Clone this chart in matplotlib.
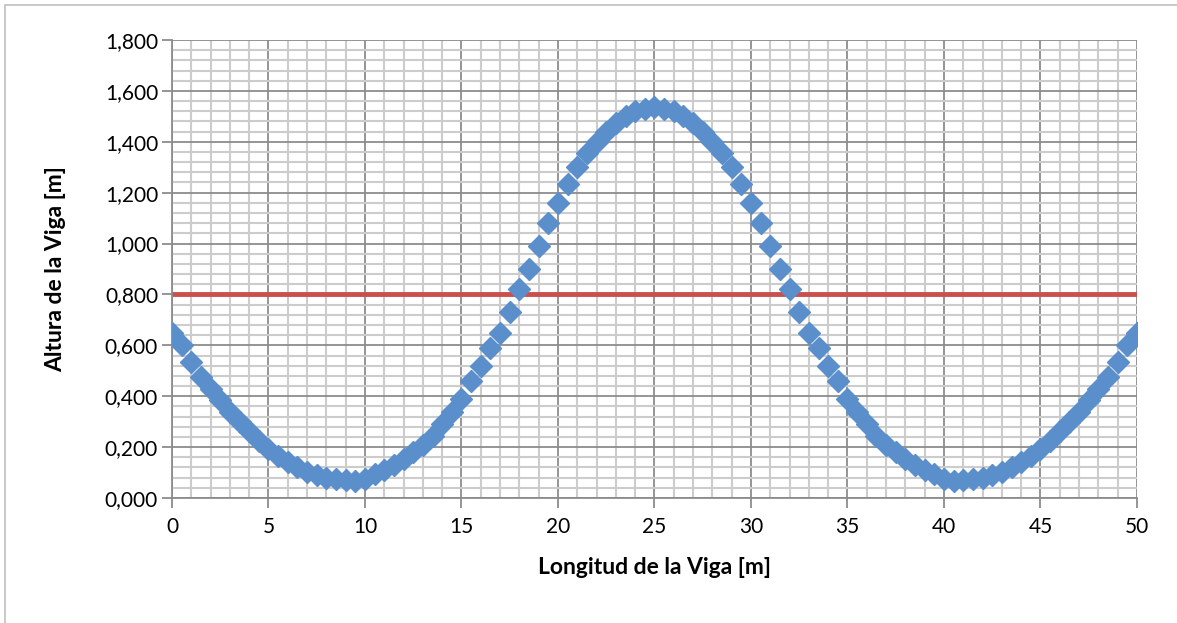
import matplotlib.pyplot as plt
from matplotlib.ticker import MultipleLocator, FuncFormatter
from matplotlib.patches import Rectangle

# Beam profile data
longitud = [0.0, 0.5, 1.0, 1.5, 2.0, 2.5, 3.0, 3.5, 4.0, 4.5,
            5.0, 5.5, 6.0, 6.5, 7.0, 7.5, 8.0, 8.5, 9.0, 9.5,
            10.0, 10.5, 11.0, 11.5, 12.0, 12.5, 13.0, 13.5, 14.0, 14.5,
            15.0, 15.5, 16.0, 16.5, 17.0, 17.5, 18.0, 18.5, 19.0, 19.5,
            20.0, 20.5, 21.0, 21.5, 22.0, 22.5, 23.0, 23.5, 24.0, 24.5,
            25.0, 25.5, 26.0, 26.5, 27.0, 27.5, 28.0, 28.5, 29.0, 29.5,
            30.0, 30.5, 31.0, 31.5, 32.0, 32.5, 33.0, 33.5, 34.0, 34.5,
            35.0, 35.5, 36.0, 36.5, 37.0, 37.5, 38.0, 38.5, 39.0, 39.5,
            40.0, 40.5, 41.0, 41.5, 42.0, 42.5, 43.0, 43.5, 44.0, 44.5,
            45.0, 45.5, 46.0, 46.5, 47.0, 47.5, 48.0, 48.5, 49.0, 49.5,
            50.0]
altura = [0.650, 0.600, 0.535, 0.475, 0.430, 0.385, 0.340, 0.300, 0.262, 0.225,
          0.192, 0.165, 0.140, 0.120, 0.102, 0.090, 0.080, 0.075, 0.071, 0.068,
          0.075, 0.095, 0.110, 0.130, 0.152, 0.180, 0.210, 0.245, 0.290, 0.340,
          0.390, 0.460, 0.520, 0.590, 0.650, 0.730, 0.820, 0.900, 0.990, 1.080,
          1.160, 1.235, 1.300, 1.355, 1.400, 1.440, 1.475, 1.500, 1.520, 1.530,
          1.535, 1.530, 1.520, 1.500, 1.475, 1.440, 1.400, 1.355, 1.300, 1.235,
          1.160, 1.080, 0.990, 0.900, 0.820, 0.730, 0.650, 0.590, 0.520, 0.460,
          0.390, 0.340, 0.290, 0.245, 0.210, 0.180, 0.152, 0.130, 0.110, 0.095,
          0.075, 0.068, 0.071, 0.075, 0.080, 0.090, 0.102, 0.120, 0.140, 0.165,
          0.192, 0.225, 0.262, 0.300, 0.340, 0.385, 0.430, 0.475, 0.535, 0.600,
          0.650]
limite_x = [0, 50]
limite_y = [0.8, 0.8]

plt.rcParams['font.family'] = ['Lato', 'DejaVu Sans']

fig = plt.figure(figsize=(11.77, 6.23), dpi=100)
fig.patches.append(Rectangle((0.004, -0.01), 1.2, 1.002, transform=fig.transFigure,
                             fill=False, edgecolor='#bfbfbf', linewidth=1.2))
ax = fig.add_axes([0.1461, 0.2006, 0.8199, 0.7352])

ax.plot(longitud, altura, linestyle='none', marker='D', markersize=11.5,
        color='#5b8fcb', zorder=3)
ax.plot(limite_x, limite_y, color='#c9504d', linewidth=3.5, zorder=2)

ax.set_xlim(0, 50)
ax.set_ylim(0, 1.8)
ax.xaxis.set_major_locator(MultipleLocator(5))
ax.xaxis.set_minor_locator(MultipleLocator(1))
ax.yaxis.set_major_locator(MultipleLocator(0.2))
ax.yaxis.set_minor_locator(MultipleLocator(0.04))
ax.yaxis.set_major_formatter(FuncFormatter(lambda v, p: f"{v:.3f}".replace('.', ',')))
ax.xaxis.set_major_formatter(FuncFormatter(lambda v, p: f"{v:.0f}"))

ax.grid(True, which='major', color='#8c8c8c', linewidth=1.3)
ax.grid(True, which='minor', color='#cccccc', linewidth=1.5)
ax.set_axisbelow(True)

for s in ['top', 'right']:
    ax.spines[s].set_visible(False)
for s in ['left', 'bottom']:
    ax.spines[s].set_color('#8c8c8c')
    ax.spines[s].set_linewidth(1.3)

ax.tick_params(which='major', direction='out', length=7, width=1.3, color='#8c8c8c',
               labelsize=15, pad=3)
ax.tick_params(axis='x', which='major', pad=7)
ax.tick_params(which='minor', length=0)

ax.set_xlabel('Longitud de la Viga [m]', fontsize=16.5, fontweight='bold', labelpad=14)
ax.set_ylabel('Altura de la Viga [m]', fontsize=16.5, fontweight='bold', labelpad=28)

plt.savefig('out.png', dpi=100)
